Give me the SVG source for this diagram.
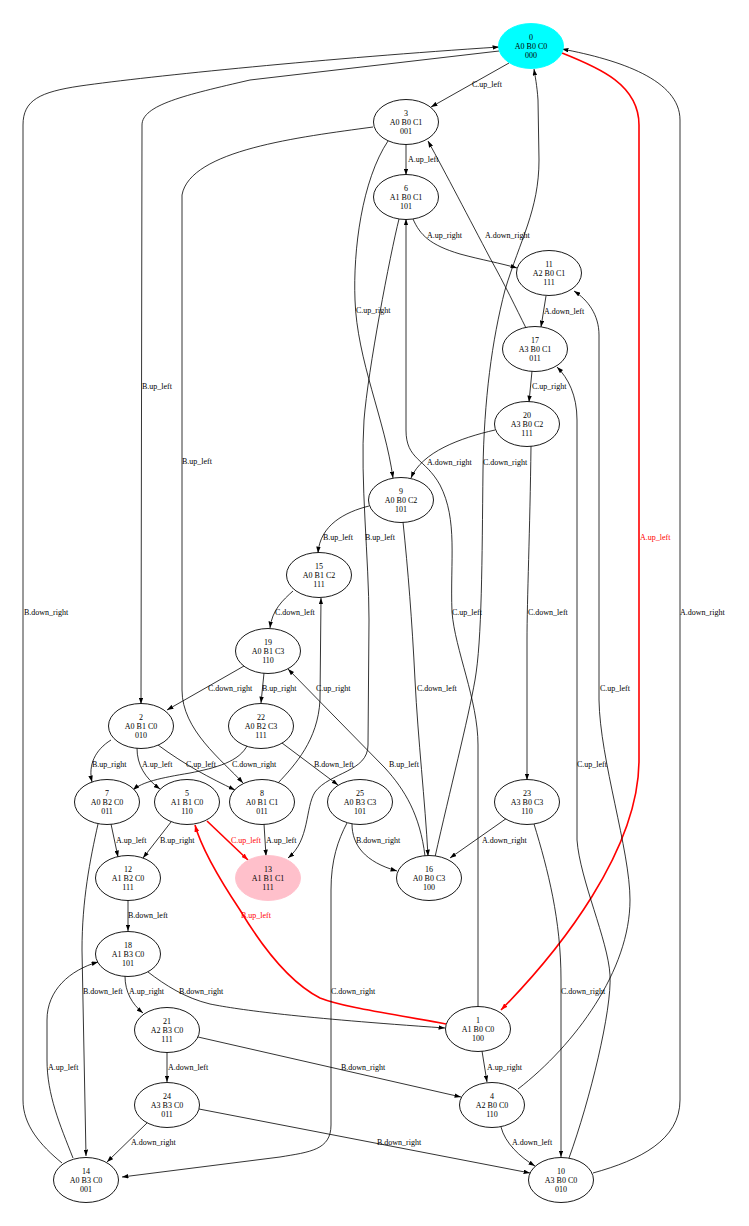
<svg xmlns="http://www.w3.org/2000/svg" width="749" height="1226" viewBox="0 0 749 1226">
<style>
.n ellipse{fill:#fff;stroke:#000;stroke-width:0.9}
text{font-family:"Liberation Serif","Times New Roman",serif;font-size:8px;fill:#000}
.n text{text-anchor:middle}
.e path{fill:none;stroke:#000;stroke-width:0.8;marker-end:url(#ah)}
.e path.r{stroke:#f00;stroke-width:1.6;marker-end:url(#ahr)}
.e text.r{fill:#f00}
</style>
<defs>
<marker id="ah" viewBox="0 0 10 7" refX="10" refY="3.5" markerWidth="6.5" markerHeight="4.5" orient="auto" markerUnits="userSpaceOnUse"><path d="M0,0L10,3.5L0,7z" fill="#000"/></marker>
<marker id="ahr" viewBox="0 0 10 7" refX="10" refY="3.5" markerWidth="7" markerHeight="5" orient="auto" markerUnits="userSpaceOnUse"><path d="M0,0L10,3.5L0,7z" fill="#f00"/></marker>
</defs>
<rect width="749" height="1226" fill="#fff"/>
<g id="edges" class="e">
<path d="M509,63 L431,107"/><text x="472" y="87">C.up_left</text>
<path d="M406,144 L406,175"/><text x="408" y="162">A.up_left</text>
<path d="M413,219 C420,235 430,245 460,254 C482,260 500,263 517,268"/><text x="427" y="238">A.up_right</text>
<path d="M546,296 L541,327"/><text x="544" y="314">A.down_left</text>
<path d="M526,328 C516,308 505,285 490,258 C470,220 445,172 428,141"/><text x="485" y="238">A.down_right</text>
<path d="M532,371 L529,402"/><text x="532" y="389">C.up_right</text>
<path d="M495,430 C460,438 422,452 411,478"/><text x="427" y="465">A.down_right</text>
<path d="M531,446 C530,530 527,600 527,640 L527,780"/><text x="528" y="615">C.down_left</text>
<path d="M388,141 C362,180 353,250 355,300 C357,360 385,420 393,478"/><text x="356" y="313">C.up_right</text>
<path d="M373,127 C300,137 190,150 182,195 L182,690 C182,730 222,760 243,783"/><text x="182" y="464">B.up_left</text>
<path d="M499,51 L250,80 C185,95 142,105 142,125 L141,704"/><text x="142" y="389">B.up_left</text>
<path d="M399,219 C390,255 368,370 364,420 C360,480 369,560 369,620 L368,745 C368,772 330,772 315,792 C305,808 310,840 288,858"/><text x="365" y="540">B.up_left</text>
<path d="M478,1007 L478,745 C478,700 455,650 452,612 C450,560 458,520 440,485 C425,458 406,460 406,430 L406,219"/><text x="452" y="615">C.up_left</text>
<path d="M435,857 C450,790 468,720 475,680 C482,640 482,560 483,470 C484,400 492,340 505,290 C520,240 539,210 539,160 L538,100 C537,85 535,76 534,69"/><text x="483" y="465">C.down_right</text>
<path d="M403,522 C408,570 412,620 415,680 C418,740 425,800 428,856"/><text x="417" y="691">C.down_left</text>
<path d="M425,856 C420,815 405,790 385,768 L288,669"/><text x="389" y="767">B.up_left</text>
<path d="M507,818 L450,858"/><text x="482" y="843">A.down_right</text>
<path d="M352,824 C352,845 365,862 397,871"/><text x="356" y="843">B.down_right</text>
<path d="M282,743 L338,785"/><text x="314" y="767">B.down_left</text>
<path d="M264,673 L261,703"/><text x="262" y="691">B.up_right</text>
<path d="M244,666 L167,710"/><text x="208" y="691">C.down_right</text>
<path d="M293,591 C283,600 272,610 270,628"/><text x="275" y="615">C.down_left</text>
<path d="M369,506 C345,512 320,525 318,553"/><text x="323" y="540">B.up_left</text>
<path d="M278,783 C295,765 318,740 320,700 L321,598"/><text x="316" y="691">C.up_right</text>
<path d="M264,824 L266,856"/><text x="266" y="843">A.up_left</text>
<path class="r" d="M207,821 L248,860"/><text class="r" x="231" y="843">C.up_left</text>
<path class="r" d="M446,1024 C400,1015 345,1008 320,998 C285,980 258,940 240,910 C220,880 202,850 195,825"/><text class="r" x="241" y="918">B.up_left</text>
<path class="r" d="M562,53 C600,68 639,85 639,125 L639,760 C639,850 560,950 501,1010"/><text class="r" x="640" y="540">A.up_left</text>
<path d="M593,1173 C640,1160 680,1140 680,1100 L680,120 C680,80 620,60 562,49"/><text x="680" y="615">A.down_right</text>
<path d="M569,1158 C590,1100 612,1010 610,975 C608,940 580,880 577,840 L577,420 C577,395 568,378 557,367"/><text x="577" y="767">C.up_left</text>
<path d="M518,1089 C575,1045 630,970 630,900 C630,850 600,760 599,700 L599,335 C599,315 588,300 574,291"/><text x="600" y="691">C.up_left</text>
<path d="M111,740 C95,750 88,765 92,782"/><text x="92" y="767">B.up_right</text>
<path d="M137,748 C137,765 145,778 160,789"/><text x="142" y="767">A.up_left</text>
<path d="M158,745 C185,765 210,778 235,790"/><text x="186" y="767">C.up_left</text>
<path d="M248,744 C240,762 215,768 190,773 C160,778 142,782 133,790"/><text x="232" y="767">C.down_right</text>
<path d="M111,824 L118,857"/><text x="116" y="843">A.up_left</text>
<path d="M171,822 L143,858"/><text x="160" y="843">B.up_right</text>
<path d="M98,824 C90,860 82,900 82,950 L86,1156"/><text x="83" y="994">B.down_left</text>
<path d="M128,900 L128,931"/><text x="128" y="918">B.down_left</text>
<path d="M125,976 C125,992 132,1004 143,1013"/><text x="129" y="994">A.up_right</text>
<path d="M148,972 C165,985 185,998 210,1004 C240,1010 300,1018 445,1028"/><text x="179" y="994">B.down_right</text>
<path d="M167,1052 L167,1082"/><text x="168" y="1070">A.down_left</text>
<path d="M198,1037 L461,1097"/><text x="341" y="1070">B.down_right</text>
<path d="M148,1122 L107,1162"/><text x="131" y="1145">A.down_right</text>
<path d="M199,1109 L530,1173"/><text x="377" y="1145">B.down_right</text>
<path d="M73,1158 C60,1125 47,1095 47,1060 L47,1020 C47,990 70,970 98,962"/><text x="48" y="1070">A.up_left</text>
<path d="M62,1163 C40,1145 23,1125 23,1100 L23,125 C23,100 40,92 80,86 C150,76 330,58 499,47"/><text x="24" y="615">B.down_right</text>
<path d="M347,823 C338,840 331,860 331,890 L331,1125 C331,1150 310,1152 280,1157 L122,1177"/><text x="331" y="994">C.down_right</text>
<path d="M482,1051 L487,1082"/><text x="487" y="1070">A.up_right</text>
<path d="M501,1127 C505,1143 520,1157 535,1166"/><text x="512" y="1145">A.down_left</text>
<path d="M534,824 C548,870 561,920 561,980 L561,1157"/><text x="561" y="994">C.down_right</text>
</g>
<g id="node0" class="n"><ellipse cx="531" cy="46" rx="32.5" ry="22.5" style="fill:#0ff;stroke:#0ff"/><text x="531" y="39.5">0</text><text x="531" y="48.7">A0 B0 C0</text><text x="531" y="57.6">000</text></g>
<g id="node1" class="n"><ellipse cx="478" cy="1029" rx="32.5" ry="22.5"/><text x="478" y="1022.5">1</text><text x="478" y="1031.7">A1 B0 C0</text><text x="478" y="1040.6">100</text></g>
<g id="node2" class="n"><ellipse cx="141" cy="726" rx="32.5" ry="22.5"/><text x="141" y="719.5">2</text><text x="141" y="728.7">A0 B1 C0</text><text x="141" y="737.6">010</text></g>
<g id="node3" class="n"><ellipse cx="406" cy="122" rx="32.5" ry="22.5"/><text x="406" y="115.5">3</text><text x="406" y="124.7">A0 B0 C1</text><text x="406" y="133.6">001</text></g>
<g id="node4" class="n"><ellipse cx="492" cy="1105" rx="32.5" ry="22.5"/><text x="492" y="1098.5">4</text><text x="492" y="1107.7">A2 B0 C0</text><text x="492" y="1116.6">110</text></g>
<g id="node5" class="n"><ellipse cx="187" cy="802" rx="32.5" ry="22.5"/><text x="187" y="795.5">5</text><text x="187" y="804.7">A1 B1 C0</text><text x="187" y="813.6">110</text></g>
<g id="node6" class="n"><ellipse cx="406" cy="197" rx="32.5" ry="22.5"/><text x="406" y="190.5">6</text><text x="406" y="199.7">A1 B0 C1</text><text x="406" y="208.6">101</text></g>
<g id="node7" class="n"><ellipse cx="107" cy="802" rx="32.5" ry="22.5"/><text x="107" y="795.5">7</text><text x="107" y="804.7">A0 B2 C0</text><text x="107" y="813.6">011</text></g>
<g id="node8" class="n"><ellipse cx="262" cy="802" rx="32.5" ry="22.5"/><text x="262" y="795.5">8</text><text x="262" y="804.7">A0 B1 C1</text><text x="262" y="813.6">011</text></g>
<g id="node9" class="n"><ellipse cx="401" cy="500" rx="32.5" ry="22.5"/><text x="401" y="493.5">9</text><text x="401" y="502.7">A0 B0 C2</text><text x="401" y="511.6">101</text></g>
<g id="node10" class="n"><ellipse cx="561" cy="1180" rx="32.5" ry="22.5"/><text x="561" y="1173.5">10</text><text x="561" y="1182.7">A3 B0 C0</text><text x="561" y="1191.6">010</text></g>
<g id="node11" class="n"><ellipse cx="549" cy="273" rx="32.5" ry="22.5"/><text x="549" y="266.5">11</text><text x="549" y="275.7">A2 B0 C1</text><text x="549" y="284.6">111</text></g>
<g id="node12" class="n"><ellipse cx="128" cy="878" rx="32.5" ry="22.5"/><text x="128" y="871.5">12</text><text x="128" y="880.7">A1 B2 C0</text><text x="128" y="889.6">111</text></g>
<g id="node13" class="n"><ellipse cx="268" cy="878" rx="32.5" ry="22.5" style="fill:#ffc0cb;stroke:#ffc0cb"/><text x="268" y="871.5">13</text><text x="268" y="880.7">A1 B1 C1</text><text x="268" y="889.6">111</text></g>
<g id="node14" class="n"><ellipse cx="86" cy="1180" rx="32.5" ry="22.5"/><text x="86" y="1173.5">14</text><text x="86" y="1182.7">A0 B3 C0</text><text x="86" y="1191.6">001</text></g>
<g id="node15" class="n"><ellipse cx="319" cy="575" rx="32.5" ry="22.5"/><text x="319" y="568.5">15</text><text x="319" y="577.7">A0 B1 C2</text><text x="319" y="586.6">111</text></g>
<g id="node16" class="n"><ellipse cx="429" cy="878" rx="32.5" ry="22.5"/><text x="429" y="871.5">16</text><text x="429" y="880.7">A0 B0 C3</text><text x="429" y="889.6">100</text></g>
<g id="node17" class="n"><ellipse cx="535" cy="349" rx="32.5" ry="22.5"/><text x="535" y="342.5">17</text><text x="535" y="351.7">A3 B0 C1</text><text x="535" y="360.6">011</text></g>
<g id="node18" class="n"><ellipse cx="128" cy="954" rx="32.5" ry="22.5"/><text x="128" y="947.5">18</text><text x="128" y="956.7">A1 B3 C0</text><text x="128" y="965.6">101</text></g>
<g id="node19" class="n"><ellipse cx="268" cy="651" rx="32.5" ry="22.5"/><text x="268" y="644.5">19</text><text x="268" y="653.7">A0 B1 C3</text><text x="268" y="662.6">110</text></g>
<g id="node20" class="n"><ellipse cx="527" cy="424" rx="32.5" ry="22.5"/><text x="527" y="417.5">20</text><text x="527" y="426.7">A3 B0 C2</text><text x="527" y="435.6">111</text></g>
<g id="node21" class="n"><ellipse cx="167" cy="1030" rx="32.5" ry="22.5"/><text x="167" y="1023.5">21</text><text x="167" y="1032.7">A2 B3 C0</text><text x="167" y="1041.6">111</text></g>
<g id="node22" class="n"><ellipse cx="261" cy="726" rx="32.5" ry="22.5"/><text x="261" y="719.5">22</text><text x="261" y="728.7">A0 B2 C3</text><text x="261" y="737.6">111</text></g>
<g id="node23" class="n"><ellipse cx="527" cy="802" rx="32.5" ry="22.5"/><text x="527" y="795.5">23</text><text x="527" y="804.7">A3 B0 C3</text><text x="527" y="813.6">110</text></g>
<g id="node24" class="n"><ellipse cx="167" cy="1105" rx="32.5" ry="22.5"/><text x="167" y="1098.5">24</text><text x="167" y="1107.7">A3 B3 C0</text><text x="167" y="1116.6">011</text></g>
<g id="node25" class="n"><ellipse cx="360" cy="802" rx="32.5" ry="22.5"/><text x="360" y="795.5">25</text><text x="360" y="804.7">A0 B3 C3</text><text x="360" y="813.6">101</text></g>
</svg>
